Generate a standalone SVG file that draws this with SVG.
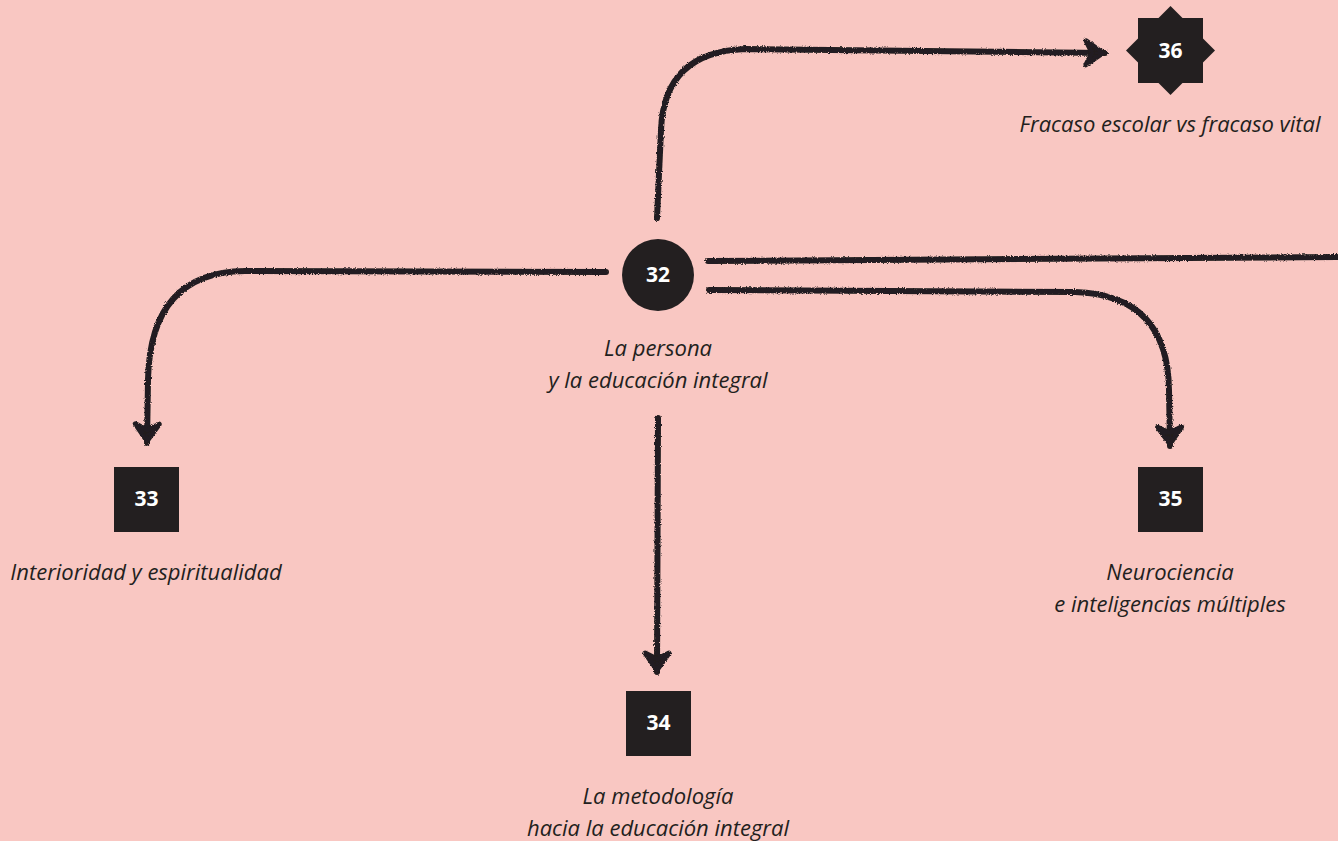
<svg xmlns="http://www.w3.org/2000/svg" width="1338" height="841" viewBox="0 0 1338 841">
<style>
.bg{fill:#f9c7c2}
.node{fill:#231f20}
.num{font-family:"Open Sans","Noto Sans",sans-serif;font-weight:700;font-size:21px;fill:#ffffff;text-anchor:middle}
.lbl{font-family:"Open Sans","Noto Sans",sans-serif;font-style:italic;font-size:22px;fill:#231f20;text-anchor:middle}
.con{fill:none;stroke:#231f20;stroke-width:6;stroke-linecap:round;stroke-linejoin:round;filter:url(#rough)}
</style>
<defs>
<filter id="rough" filterUnits="userSpaceOnUse" x="0" y="0" width="1338" height="841">
<feTurbulence type="fractalNoise" baseFrequency="0.9" numOctaves="2" seed="3" result="n"/>
<feDisplacementMap in="SourceGraphic" in2="n" scale="3" xChannelSelector="R" yChannelSelector="G"/>
</filter>
<marker id="ah" markerUnits="userSpaceOnUse" markerWidth="40" markerHeight="40" refX="2" refY="0" viewBox="-20 -20 40 40" orient="auto" overflow="visible">
<path d="M-17,-12 L0,0 L-17,12 L-11,0 Z" fill="#231f20" stroke="#231f20" stroke-width="5" stroke-linejoin="round"/>
</marker>
</defs>
<rect class="bg" x="0" y="0" width="1338" height="841"/>
<g id="connectors">
<path class="con" d="M657,218 L661,130 Q664,52 745,49 L1105,53" marker-end="url(#ah)"/>
<path class="con" d="M606,272 L245,271 Q150,272 148,380 L147,443" marker-end="url(#ah)"/>
<path class="con" d="M658,418 L657,672" marker-end="url(#ah)"/>
<path class="con" d="M708,261 L1338,257"/>
<path class="con" d="M709,290 L1075,292 Q1168,295 1169,390 L1170,446" marker-end="url(#ah)"/>
</g>
<g id="n32">
<circle class="node" cx="658" cy="275" r="36"/>
<text class="num" x="658" y="282">32</text>
<text class="lbl" x="658" y="356">La persona</text>
<text class="lbl" x="658" y="388">y la educación integral</text>
</g>
<g id="n33">
<rect class="node" x="114" y="467" width="65" height="65"/>
<text class="num" x="146.5" y="506">33</text>
<text class="lbl" x="146" y="580">Interioridad y espiritualidad</text>
</g>
<g id="n34">
<rect class="node" x="626" y="691" width="65" height="65"/>
<text class="num" x="658.5" y="730">34</text>
<text class="lbl" x="658" y="804">La metodología</text>
<text class="lbl" x="658" y="836">hacia la educación integral</text>
</g>
<g id="n35">
<rect class="node" x="1138" y="467" width="65" height="65"/>
<text class="num" x="1170.5" y="506">35</text>
<text class="lbl" x="1170" y="580">Neurociencia</text>
<text class="lbl" x="1170" y="612">e inteligencias múltiples</text>
</g>
<g id="n36">
<rect class="node" x="1138" y="18" width="65" height="65"/>
<polygon class="node" points="1170.5,6 1215,50.5 1170.5,95 1126,50.5"/>
<text class="num" x="1170.5" y="58">36</text>
<text class="lbl" x="1170" y="132">Fracaso escolar vs fracaso vital</text>
</g>
</svg>
